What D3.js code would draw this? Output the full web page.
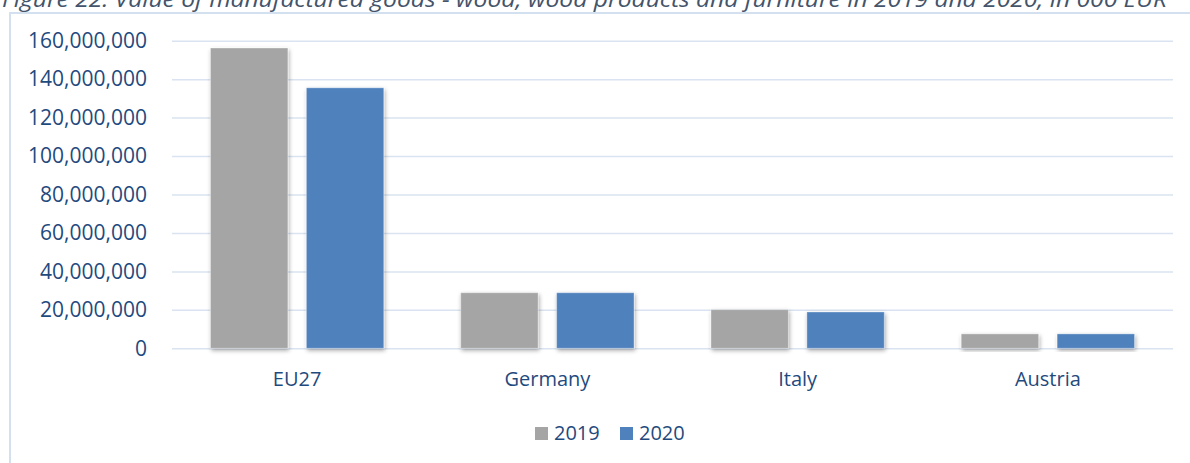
<!DOCTYPE html>
<html>
<head>
<meta charset="utf-8">
<script src="https://cdn.jsdelivr.net/npm/d3@7"></script>
<style>
  html, body { margin: 0; padding: 0; background: #ffffff; }
  svg { display: block; }
</style>
</head>
<body>
<svg id="chart" width="1190" height="463"></svg>
<script>
// Value of manufactured goods (000 EUR)
const categories = ["EU27", "Germany", "Italy", "Austria"];
const seriesNames = ["2019", "2020"];
const values2019 = [156200000, 28900000, 20100000, 7500000];
const values2020 = [135500000, 28900000, 18900000, 7500000];
const yTicks = [0, 20000000, 40000000, 60000000, 80000000, 100000000, 120000000, 140000000, 160000000];
const seriesColors = ["#A5A5A5", "#4F81BD"];
const titleText = "Figure 22: Value of manufactured goods - wood, wood products and furniture in 2019 and 2020, in 000 EUR";

const svg = d3.select("#chart");
const textColor = "#1F4A7E";
const gridColor = "#D9E3F1";
const fontFamily = "'Open Sans', 'Noto Sans', sans-serif";

// drop shadow used under the bars
const defs = svg.append("defs");
const shadow = defs.append("filter").attr("id", "barShadow")
  .attr("x", "-20%").attr("y", "-20%").attr("width", "140%").attr("height", "140%");
shadow.append("feDropShadow")
  .attr("dx", 1).attr("dy", 2).attr("stdDeviation", 2)
  .attr("flood-color", "#000").attr("flood-opacity", 0.35);

// caption above the chart frame
svg.append("text")
  .attr("x", 2).attr("y", 7)
  .attr("font-family", fontFamily)
  .attr("font-style", "italic")
  .attr("font-size", 21)
  .attr("fill", "#44546A")
  .attr("textLength", 1165)
  .attr("lengthAdjust", "spacingAndGlyphs")
  .text(titleText);

// chart frame
svg.append("rect")
  .attr("x", 10).attr("y", 13)
  .attr("width", 1200).attr("height", 470)
  .attr("fill", "none")
  .attr("stroke", "#D3E0F0")
  .attr("stroke-width", 2);

const plot = { left: 172, right: 1173, top: 40.7, bottom: 348.3 };

const y = d3.scaleLinear().domain([0, 160000000]).range([plot.bottom, plot.top]);
const x0 = d3.scaleBand().domain(categories).range([plot.left, plot.right])
  .paddingInner(0.3075).paddingOuter(0.15375);
const x1 = d3.scaleBand().domain(seriesNames).range([0, x0.bandwidth()])
  .paddingInner(0.193).paddingOuter(0);

// gridlines and value labels
const yAxis = d3.axisLeft(y)
  .tickValues(yTicks)
  .tickSize(-(plot.right - plot.left))
  .tickPadding(25)
  .tickFormat(d3.format(",.0f"));

const gAxis = svg.append("g")
  .attr("transform", `translate(${plot.left},0)`)
  .call(yAxis);
gAxis.select(".domain").remove();
gAxis.selectAll(".tick line").attr("stroke", gridColor).attr("stroke-width", 1.5);
gAxis.selectAll(".tick text")
  .attr("fill", textColor)
  .attr("font-family", fontFamily)
  .attr("font-size", 21);

// bars
const rows = categories.map((c, i) => ({ cat: c, vals: [values2019[i], values2020[i]] }));
const groups = svg.append("g").selectAll("g")
  .data(rows).join("g")
  .attr("transform", d => `translate(${x0(d.cat)},0)`);

groups.selectAll("rect")
  .data(d => d.vals.map((v, j) => ({ series: seriesNames[j], value: v, color: seriesColors[j] })))
  .join("rect")
  .attr("x", d => x1(d.series))
  .attr("width", x1.bandwidth())
  .attr("y", d => y(d.value))
  .attr("height", d => y(0) - y(d.value))
  .attr("fill", d => d.color)
  .attr("stroke", "#ffffff")
  .attr("stroke-opacity", 0.35)
  .attr("stroke-width", 1)
  .attr("filter", "url(#barShadow)");

// category labels
const xAxis = d3.axisBottom(x0).tickSize(0).tickPadding(24);
const gx = svg.append("g")
  .attr("transform", `translate(0,${plot.bottom})`)
  .call(xAxis);
gx.select(".domain").remove();
gx.selectAll(".tick text")
  .attr("fill", textColor)
  .attr("font-family", fontFamily)
  .attr("font-size", 20);

// legend
const legendItems = [
  { name: seriesNames[0], color: seriesColors[0], x: 535 },
  { name: seriesNames[1], color: seriesColors[1], x: 620 }
];
const legend = svg.append("g");
legend.selectAll("rect").data(legendItems).join("rect")
  .attr("x", d => d.x).attr("y", 427)
  .attr("width", 13).attr("height", 13)
  .attr("fill", d => d.color);
legend.selectAll("text").data(legendItems).join("text")
  .attr("x", d => d.x + 19).attr("y", 440)
  .attr("fill", textColor)
  .attr("font-family", fontFamily)
  .attr("font-size", 20)
  .text(d => d.name);
</script>
</body>
</html>
